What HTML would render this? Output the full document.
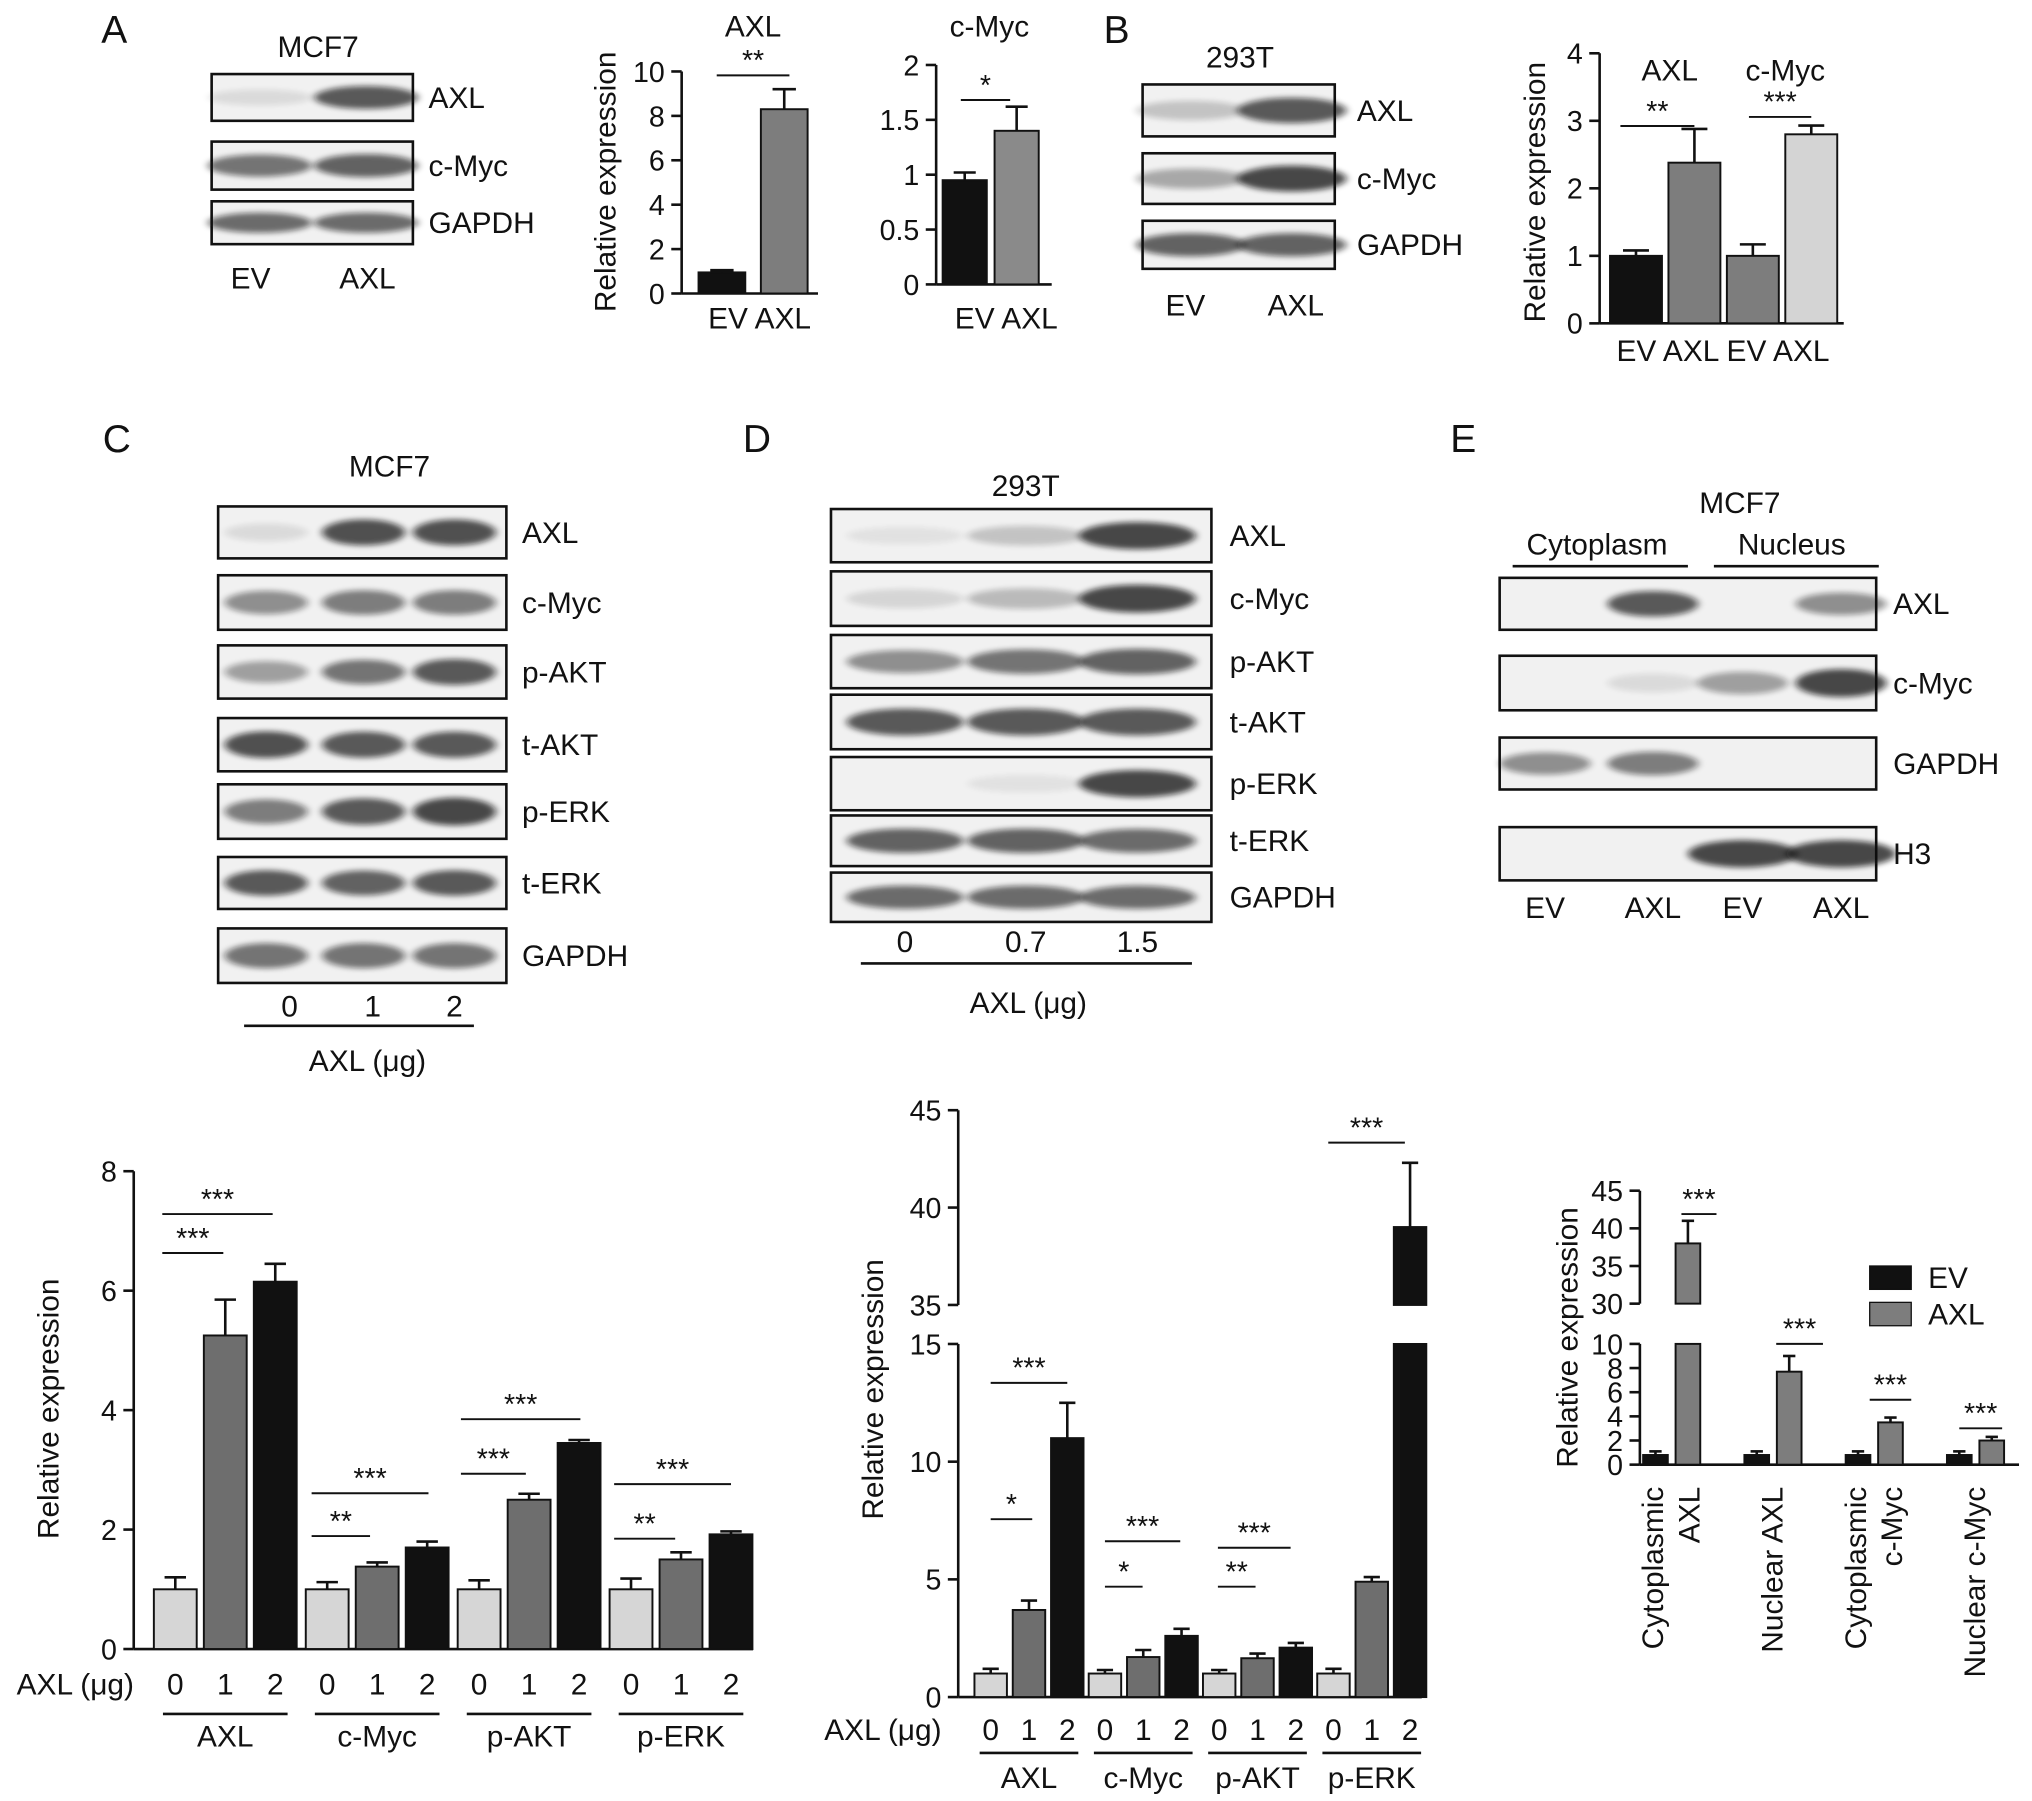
<!DOCTYPE html>
<html><head><meta charset="utf-8"><style>
html,body{margin:0;padding:0;background:#fff}
svg{display:block}
text{font-family:"Liberation Sans",Arial,sans-serif;fill:#111}
</style></head><body>
<svg id="fig" width="2032" height="1801" viewBox="0 0 1565 1387" xmlns="http://www.w3.org/2000/svg">
<defs><filter id="blur" x="-20%" y="-50%" width="140%" height="200%"><feGaussianBlur stdDeviation="3 2"/></filter></defs>
</svg>
<script>
// ---- chart data ----
const aAxlCats=['EV','AXL'];
const aAxlVals=[0.95,8.3];
const aAxlErrs=[0.1,0.9];
const aAxlTicks=[0,2,4,6,8,10];
const aMycVals=[0.95,1.4];
const aMycErrs=[0.07,0.22];
const aMycTicks=[0,0.5,1,1.5,2];
const bCats=['EV','AXL','EV','AXL'];
const bVals=[1.0,2.38,1.0,2.8];
const bErrs=[0.08,0.5,0.17,0.13];
const bTicks=[0,1,2,3,4];
const cGroups=['AXL','c-Myc','p-AKT','p-ERK'];
const doseLevels=['0','1','2'];
const cVals=[[1.0,5.25,6.15],[1.0,1.38,1.7],[1.0,2.5,3.45],[1.0,1.5,1.92]];
const cErrs=[[0.2,0.6,0.3],[0.12,0.07,0.1],[0.15,0.1,0.05],[0.18,0.12,0.05]];
const cTicks=[0,2,4,6,8];
const dVals=[[1.0,3.7,11.0],[1.0,1.7,2.6],[1.0,1.65,2.1],[1.0,4.9,39.0]];
const dErrs=[[0.2,0.4,1.5],[0.15,0.3,0.3],[0.15,0.2,0.2],[0.2,0.2,3.3]];
const dTicksLow=[0,5,10,15];
const dTicksHigh=[35,40,45];
const eCats=[['Cytoplasmic','AXL'],['Nuclear AXL'],['Cytoplasmic','c-Myc'],['Nuclear c-Myc']];
const eSeries=['EV','AXL'];
const eEV=[0.8,0.8,0.8,0.8];
const eEVErr=[0.3,0.3,0.3,0.3];
const eAXL=[38,7.7,3.5,2.0];
const eAXLErr=[3,1.3,0.4,0.3];
const eTicksLow=[0,2,4,6,8,10];
const eTicksHigh=[30,35,40,45];

const NS='http://www.w3.org/2000/svg';
const svg=document.getElementById('fig');
function el(tag,a,p,name){const e=document.createElementNS(NS,tag);for(const k in a)e.setAttribute(k,a[k]);


(p||svg).appendChild(e);return e;}
function grp(name){return el('g',{},svg,name);}
function T(x,y,s,size,anchor,p,name,rot){const a={x:x,y:y,'font-size':size,'text-anchor':anchor||'middle'};if(rot)a.transform='rotate(-90 '+x+' '+y+')';const t=el('text',a,p,name||'label');t.textContent=s;return t;}
function L(x1,y1,x2,y2,p,name,w){return el('line',{x1:x1,y1:y1,x2:x2,y2:y2,stroke:'#111','stroke-width':w||2},p,name||'line');}

// ---- blots ----
function blot(name,x,w,rows,lanes){
  const g=grp(name);
  rows.forEach(r=>{
    el('rect',{x:x,y:r[1],width:w,height:r[2]-r[1],fill:'#f1f1f1',stroke:'#111','stroke-width':2},g,'blot-box-'+r[0]);
    const cy=(r[1]+r[2])/2,h=(r[2]-r[1]);
    r[3].forEach((v,i)=>{ if(v>0) el('ellipse',{cx:lanes[i],cy:cy,rx:r[4]||38,ry:h*0.16+v*h*0.1,fill:'#111',opacity:v*0.78,filter:'url(#blur)'},g,'band'); });
    T(r[5],cy+8,r[0],23,'start',g,'blot-label');
  });
  return g;
}
// A
T(88,33,'A',30,'middle',null,'panel-label-a');
T(245,44,'MCF7',23,'middle',null,'cell-line-label');
blot('blot-a',163,155,[['AXL',57,93,[0.12,0.85],40,330],['c-Myc',109,146,[0.7,0.8],40,330],['GAPDH',155,188,[0.75,0.75],40,330]],[200,282]);
T(193,222,'EV',23);T(283,222,'AXL',23);
// B
T(860,33,'B',30,'middle',null,'panel-label-b');
T(955,52,'293T',23);
blot('blot-b',880,148,[['AXL',65,105,[0.25,0.85],42,1045],['c-Myc',118,157,[0.4,0.95],42,1045],['GAPDH',170,207,[0.8,0.8],42,1045]],[917,995]);
T(913,243,'EV',23);T(998,243,'AXL',23);
// C
T(90,348,'C',30,'middle',null,'panel-label-c');
T(300,367,'MCF7',23);
blot('blot-c',168,222,[['AXL',390,430,[0.12,0.9,0.9],32,402],['c-Myc',443,485,[0.55,0.65,0.65],32,402],['p-AKT',497,538,[0.45,0.7,0.85],32,402],['t-AKT',553,594,[0.9,0.85,0.85],32,402],['p-ERK',604,646,[0.65,0.85,0.95],32,402],['t-ERK',660,700,[0.85,0.8,0.85],32,402],['GAPDH',715,757,[0.7,0.7,0.7],32,402]],[205,280,350]);
T(223,783,'0',23);T(287,783,'1',23);T(350,783,'2',23);L(188,790,365,790);T(283,825,'AXL (μg)',23);
// D
T(583,348,'D',30,'middle',null,'panel-label-d');
T(790,382,'293T',23);
blot('blot-d',640,293,[['AXL',392,433,[0.08,0.25,0.95],45,947],['c-Myc',440,482,[0.15,0.3,0.95],45,947],['p-AKT',489,530,[0.55,0.7,0.8],45,947],['t-AKT',535,577,[0.85,0.85,0.85],45,947],['p-ERK',583,624,[0,0.08,0.95],45,947],['t-ERK',628,667,[0.8,0.8,0.75],45,947],['GAPDH',672,710,[0.75,0.75,0.75],45,947]],[697,790,876]);
T(697,733,'0',23);T(790,733,'0.7',23);T(876,733,'1.5',23);L(663,742,918,742);T(792,780,'AXL (μg)',23);
// E
T(1127,348,'E',30,'middle',null,'panel-label-e');
T(1340,395,'MCF7',23);T(1230,427,'Cytoplasm',23);T(1380,427,'Nucleus',23);
L(1165,436,1300,436);L(1320,436,1447,436);
blot('blot-e',1155,290,[['AXL',445,485,[0,0.85,0,0.55],35,1458],['c-Myc',505,547,[0,0.12,0.45,0.95],35,1458],['GAPDH',568,608,[0.55,0.65,0,0],35,1458],['H3',637,678,[0,0,0.95,0.95],42,1458]],[1190,1273,1342,1418]);
T(1190,707,'EV',23);T(1273,707,'AXL',23);T(1342,707,'EV',23);T(1418,707,'AXL',23);

// ---- bar chart helpers ----
function axisTicks(g,x,ticks,ys,name){ticks.forEach(t=>{const y=ys(t);L(x-8,y,x,y,g,'y-tick');T(x-13,y+8,String(t),22,'end',g,name||'y-tick-label');});}
function bar(g,cx,w,val,err,color,ys,base,name,brk){
  const top=ys(val);
  if(brk && val>brk[1]){
    el('rect',{x:cx-w/2,y:ys(brk[0]),width:w,height:base-ys(brk[0]),fill:color,stroke:'#111','stroke-width':1.5},g,name);
    el('rect',{x:cx-w/2,y:top,width:w,height:ys(brk[1])-top,fill:color,stroke:'#111','stroke-width':1.5},g,name);
  } else el('rect',{x:cx-w/2,y:top,width:w,height:base-top,fill:color,stroke:'#111','stroke-width':1.5},g,name);
  const et=ys(val+err);
  L(cx,top,cx,et,g,'error-bar',2);L(cx-w/4,et,cx+w/4,et,g,'error-cap',2);
}
function sig(g,x1,x2,y,s){L(x1,y,x2,y,g,'significance-line',1.5);T((x1+x2)/2,y-4,s,22,'middle',g,'significance-stars');}

// Chart A AXL
{const g=grp('chart-a-axl');const ys=v=>226-v*17.1;
L(525,ys(10),525,226,g,'y-axis');L(525,226,630,226,g,'x-axis');axisTicks(g,525,aAxlTicks,ys);
aAxlVals.forEach((v,i)=>bar(g,556+i*48,36,v,aAxlErrs[i],i?'#7d7d7d':'#111',ys,226,'bar-'+aAxlCats[i]));
T(580,28,'AXL',23,'middle',g,'chart-title');sig(g,552,608,58,'**');
T(585,253,'EV AXL',23,'middle',g,'x-labels');T(474,140,'Relative expression',23,'middle',g,'y-axis-title',true);}
// Chart A c-Myc
{const g=grp('chart-a-cmyc');const ys=v=>219-v*84.5;
L(721,ys(2),721,219,g,'y-axis');L(721,219,810,219,g,'x-axis');axisTicks(g,721,aMycTicks,ys);
aMycVals.forEach((v,i)=>bar(g,743+i*40,34,v,aMycErrs[i],i?'#8a8a8a':'#111',ys,219,'bar-'+aAxlCats[i]));
T(762,28,'c-Myc',23,'middle',g,'chart-title');sig(g,740,778,77,'*');
T(775,253,'EV AXL',23,'middle',g,'x-labels');}
// Chart B
{const g=grp('chart-b');const ys=v=>249-v*52;const cols=['#111','#7d7d7d','#7d7d7d','#d4d4d4'];
L(1232,ys(4),1232,249,g,'y-axis');L(1232,249,1420,249,g,'x-axis');axisTicks(g,1232,bTicks,ys);
bVals.forEach((v,i)=>bar(g,1260+i*45,40,v,bErrs[i],cols[i],ys,249,'bar-'+bCats[i]));
T(1286,62,'AXL',23,'middle',g);T(1375,62,'c-Myc',23,'middle',g);
sig(g,1248,1305,97,'**');sig(g,1347,1395,90,'***');
T(1327,278,'EV AXL EV AXL',23,'middle',g,'x-labels');T(1190,148,'Relative expression',23,'middle',g,'y-axis-title',true);}

const doseCols=['#d6d6d6','#6e6e6e','#111'];
// Chart C bottom
{const g=grp('chart-c-quant');const ys=v=>1270-v*46;
L(103,ys(8),103,1270,g,'y-axis');L(103,1270,580,1270,g,'x-axis');axisTicks(g,103,cTicks,ys);
cVals.forEach((arr,gi)=>arr.forEach((v,i)=>{const cx=135+gi*117+i*38.5;bar(g,cx,33,v,cErrs[gi][i],doseCols[i],ys,1270,'bar-'+cGroups[gi]+'-'+doseLevels[i]);T(cx,1305,doseLevels[i],23,'middle',g,'dose-label');}));
cGroups.forEach((n,gi)=>{const c=135+gi*117+38.5;L(c-48,1320,c+48,1320,g,'group-line');T(c,1345,n,23,'middle',g,'group-label');});
T(58,1305,'AXL (μg)',23,'middle',g);T(45,1085,'Relative expression',23,'middle',g,'y-axis-title',true);
sig(g,125,172,965,'***');sig(g,125,210,935,'***');sig(g,240,330,1150,'***');sig(g,240,285,1183,'**');
sig(g,355,447,1093,'***');sig(g,355,405,1135,'***');sig(g,473,563,1143,'***');sig(g,473,520,1185,'**');}
// Chart D bottom
{const g=grp('chart-d-quant');const ys=v=>v<=15?1307-v*18.13:1005-(v-35)*15;
L(738,ys(45),738,ys(35),g,'y-axis-upper');L(738,ys(15),738,1307,g,'y-axis-lower');L(738,1307,1095,1307,g,'x-axis');
axisTicks(g,738,dTicksLow,ys);axisTicks(g,738,dTicksHigh,ys);
dVals.forEach((arr,gi)=>arr.forEach((v,i)=>{const cx=763+gi*88+i*29.5;bar(g,cx,25,v,dErrs[gi][i],doseCols[i],ys,1307,'bar-'+cGroups[gi]+'-'+doseLevels[i],[15,35]);T(cx,1340,doseLevels[i],23,'middle',g,'dose-label');}));
cGroups.forEach((n,gi)=>{const c=763+gi*88+29.5;L(c-38,1350,c+38,1350,g,'group-line');T(c,1377,n,23,'middle',g,'group-label');});
T(680,1340,'AXL (μg)',23,'middle',g);T(680,1070,'Relative expression',23,'middle',g,'y-axis-title',true);
sig(g,763,795,1170,'*');sig(g,763,822,1065,'***');sig(g,851,909,1187,'***');sig(g,851,880,1222,'*');
sig(g,938,994,1192,'***');sig(g,938,967,1222,'**');sig(g,1023,1082,880,'***');}
// Chart E bottom
{const g=grp('chart-e-quant');const ys=v=>v<=10?1128-v*9.3:1004-(v-30)*5.8;
L(1263,ys(45),1263,ys(30),g,'y-axis-upper');L(1263,ys(10),1263,1128,g,'y-axis-lower');L(1263,1128,1555,1128,g,'x-axis');
axisTicks(g,1263,eTicksLow,ys);axisTicks(g,1263,eTicksHigh,ys);
eEV.forEach((v,gi)=>{const cx=1275+gi*78;bar(g,cx,19,v,eEVErr[gi],'#111',ys,1128,'bar-ev',[10,30]);bar(g,cx+25,19,eAXL[gi],eAXLErr[gi],'#7d7d7d',ys,1128,'bar-axl',[10,30]);
 const lines=eCats[gi];lines.forEach((s,li)=>{T(cx+20+(li-(lines.length-1)/2)*28,1145,s,23,'end',g,'category-label',true);});});
sig(g,1295,1322,935,'***');sig(g,1368,1404,1035,'***');sig(g,1440,1472,1078,'***');sig(g,1509,1542,1100,'***');
T(1215,1030,'Relative expression',23,'middle',g,'y-axis-title',true);
const lg=grp('legend');eSeries.forEach((s,i)=>{el('rect',{x:1440,y:975+i*28,width:32,height:18,fill:i?'#7d7d7d':'#111',stroke:'#111'},lg,'legend-swatch-'+s);T(1485,992+i*28,s,23,'start',lg,'legend-label');});}
</script>
</body></html>
